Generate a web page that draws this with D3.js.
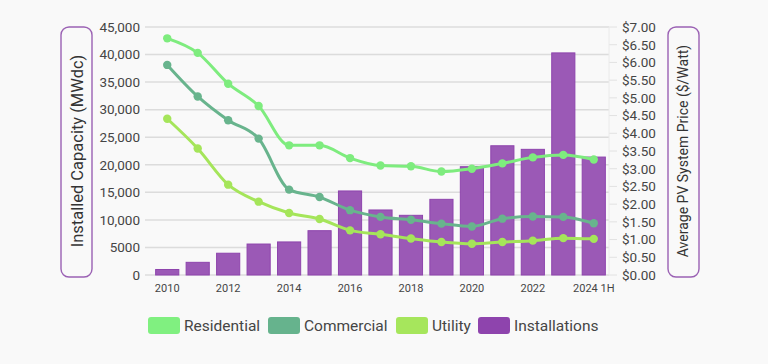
<!DOCTYPE html>
<html><head><meta charset="utf-8">
<script src="https://cdn.jsdelivr.net/npm/d3@7/dist/d3.min.js"></script>
<style>
html,body{margin:0;padding:0;background:#f9f9f9;}
svg{display:block;font-family:Roboto, "Noto Sans", sans-serif;}
</style></head>
<body><svg id="c" width="768" height="364"></svg>
<script>
const categories = ["2010","2011","2012","2013","2014","2015","2016","2017","2018","2019","2020","2021","2022","2023","2024 1H"];
const installations = [1000,2300,3950,5620,6000,8040,15250,11800,10830,13730,19650,23450,22800,40300,21400];
const residential = [6.68,6.27,5.40,4.77,3.66,3.66,3.30,3.09,3.07,2.92,3.00,3.15,3.32,3.39,3.26];
const commercial = [5.93,5.04,4.37,3.85,2.41,2.20,1.83,1.64,1.56,1.45,1.37,1.59,1.65,1.64,1.46];
const utility = [4.41,3.57,2.55,2.07,1.75,1.58,1.26,1.15,1.03,0.93,0.88,0.93,0.97,1.04,1.02];
const leftTicks = [0,5000,10000,15000,20000,25000,30000,35000,40000,45000];
const rightTicks = d3.range(0,7.01,0.5);
const xLabelsShown = ["2010","2012","2014","2016","2018","2020","2022","2024 1H"];
const series = [
  {name:"Residential", values:residential, color:"#7eec7e"},
  {name:"Commercial", values:commercial, color:"#68b48d"},
  {name:"Utility", values:utility, color:"#a5e55a"}
];
const barColor = "#9b59b6", barStroke = "#8e44ad";

const svg = d3.select("#c");
const L = 152, R = 609, T = 27, B = 275;
const x = d3.scaleBand().domain(categories).range([L, R]).paddingInner(0.24).paddingOuter(0.12);
const yL = d3.scaleLinear().domain([0,45000]).range([B, T]);
const yR = d3.scaleLinear().domain([0,7]).range([B, T]);
const textCol = "#454545";

// grid
svg.append("g").selectAll("line").data(leftTicks).join("line")
  .attr("x1", L-7).attr("x2", R).attr("y1", d=>yL(d)).attr("y2", d=>yL(d))
  .attr("stroke", "#dcdcdc").attr("stroke-width", 1.5);
// right tick marks
svg.append("g").selectAll("line").data(rightTicks).join("line")
  .attr("x1", R).attr("x2", R+8).attr("y1", d=>yR(d)).attr("y2", d=>yR(d))
  .attr("stroke", "#e2e2e2").attr("stroke-width", 1);
svg.append("line").attr("x1", R).attr("x2", R).attr("y1", T).attr("y2", B)
  .attr("stroke", "#eaeaea").attr("stroke-width", 1);

// axes labels via d3 axes
const axL = svg.append("g").attr("transform", `translate(${L-12},0)`)
  .call(d3.axisLeft(yL).tickValues(leftTicks).tickSize(0).tickPadding(0)
    .tickFormat(d => d >= 10000 ? d3.format(",")(d) : String(d)));
axL.select(".domain").remove();
axL.selectAll("text").attr("fill", textCol).attr("font-size", 13.5).attr("font-family","Roboto");

const axR = svg.append("g").attr("transform", `translate(${R+13},0)`)
  .call(d3.axisRight(yR).tickValues(rightTicks).tickSize(0).tickPadding(0)
    .tickFormat(d => "$" + d3.format(".2f")(d)));
axR.select(".domain").remove();
axR.selectAll("text").attr("fill", textCol).attr("font-size", 13.5).attr("font-family","Roboto");

const axX = svg.append("g").attr("transform", `translate(0,${B+7})`)
  .call(d3.axisBottom(x).tickSize(0).tickPadding(0)
    .tickFormat(d => xLabelsShown.includes(d) ? d : ""));
axX.select(".domain").remove();
axX.selectAll("text").attr("fill", textCol).attr("font-size", 11).attr("font-family","Roboto").attr("dy","0.9em");

// bars
svg.append("g").selectAll("rect").data(categories).join("rect")
  .attr("x", d=>x(d)).attr("width", x.bandwidth())
  .attr("y", (d,i)=>yL(installations[i])).attr("height", (d,i)=>B - yL(installations[i]))
  .attr("fill", barColor).attr("stroke", barStroke).attr("stroke-width", 1);

// lines
const cx = d => x(d) + x.bandwidth()/2;
series.forEach(s => {
  const line = d3.line().x((v,i)=>cx(categories[i])).y(v=>yR(v)).curve(d3.curveMonotoneX);
  svg.append("path").datum(s.values).attr("d", line).attr("fill","none")
    .attr("stroke", s.color).attr("stroke-width", 3);
  svg.append("g").selectAll("circle").data(s.values).join("circle")
    .attr("cx", (v,i)=>cx(categories[i])).attr("cy", v=>yR(v)).attr("r", 4.2)
    .attr("fill", s.color);
});

// axis title boxes
const boxStroke = "#9b62b4";
svg.append("rect").attr("x", 61).attr("y", 27).attr("width", 31).attr("height", 250)
  .attr("rx", 8).attr("fill", "none").attr("stroke", boxStroke).attr("stroke-width", 1.4);
svg.append("text").attr("transform", "translate(83,151) rotate(-90)")
  .attr("text-anchor","middle").attr("font-size", 16.5).attr("fill","#333")
  .text("Installed Capacity (MWdc)");
svg.append("rect").attr("x", 668).attr("y", 27).attr("width", 31).attr("height", 250)
  .attr("rx", 8).attr("fill", "none").attr("stroke", boxStroke).attr("stroke-width", 1.4);
svg.append("text").attr("transform", "translate(688,151) rotate(-90)")
  .attr("text-anchor","middle").attr("font-size", 14).attr("fill","#333")
  .text("Average PV System Price ($/Watt)");

// legend
const legend = [
  {name:"Residential", color:"#80f080", x:148},
  {name:"Commercial", color:"#66b38d", x:268},
  {name:"Utility", color:"#a6e65c", x:396},
  {name:"Installations", color:"#8e44ad", x:478}
];
const lg = svg.append("g");
legend.forEach(l => {
  lg.append("rect").attr("x", l.x).attr("y", 317).attr("width", 32).attr("height", 17)
    .attr("rx", 3).attr("fill", l.color);
  lg.append("text").attr("x", l.x+36).attr("y", 331).attr("font-size", 15.5)
    .attr("fill", textCol).text(l.name);
});
</script></body></html>
